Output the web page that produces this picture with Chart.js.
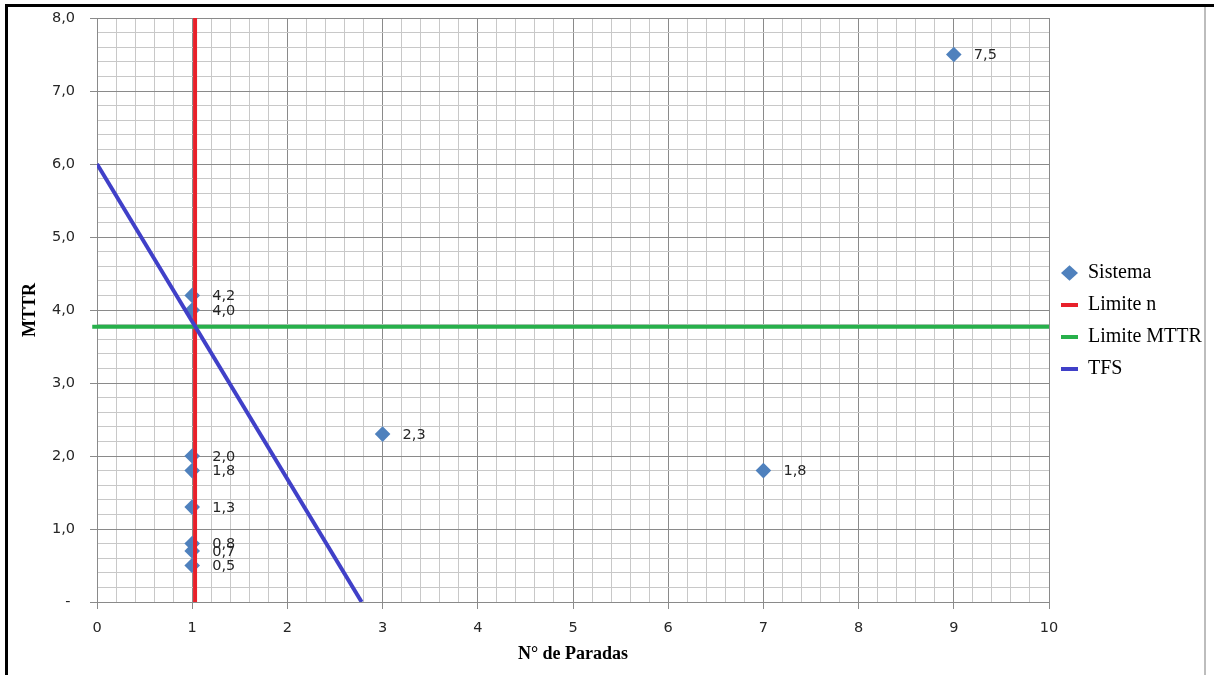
<!DOCTYPE html>
<html>
<head>
<meta charset="utf-8">
<script src="https://cdn.jsdelivr.net/npm/chart.js@4.4.1/dist/chart.umd.min.js"></script>
<style>
  html, body { margin: 0; padding: 0; background: #fff; }
  canvas { display: block; }
</style>
</head>
<body>
<canvas id="c" width="1214" height="675"></canvas>
<script>
// Sistema: número de paradas (x) y MTTR (y) de cada equipo
const paradas = [1, 1, 1, 1, 1, 1, 1, 1, 3, 7, 9];
const mttr    = [4.2, 4.0, 2.0, 1.8, 1.3, 0.8, 0.7, 0.5, 2.3, 1.8, 7.5];

// Límite n (recta vertical)
const limiteNX = [1.03, 1.03];
const limiteNY = [0, 8];

// Límite MTTR (recta horizontal)
const limiteMttrX = [-0.05, 10];
const limiteMttrY = [3.77, 3.77];

// TFS (recta decreciente)
const tfsX = [0, 2.78];
const tfsY = [6, 0];

// Etiquetas de los ejes (divisiones principales)
const xTickLabels = ['0', '1', '2', '3', '4', '5', '6', '7', '8', '9', '10'];
const yTickLabels = ['- ', '1,0', '2,0', '3,0', '4,0', '5,0', '6,0', '7,0', '8,0'];

const fmt = v => v.toFixed(1).replace('.', ',');
const toPoints = (xs, ys) => xs.map((x, i) => ({ x, y: ys[i] }));
const isMajor = v => Math.abs(v - Math.round(v)) < 1e-6;

const MAJOR = '#8a8a8a';
const MINOR = '#c8c8c8';
const TEXT = '#262626';
const tickFont = { family: 'DejaVu Sans', size: 14.5 };

// Fondo blanco y marco de la figura
const frame = {
  id: 'frame',
  beforeDraw(chart) {
    const c = chart.ctx;
    c.save();
    c.fillStyle = '#fff';
    c.fillRect(0, 0, chart.width, chart.height);
    c.restore();
  },
  afterDraw(chart) {
    const c = chart.ctx;
    c.save();
    c.fillStyle = '#bdbdbd';
    c.fillRect(1204, 6, 2, chart.height - 6);
    c.fillStyle = '#000';
    c.fillRect(5, 4, 1209, 3);
    c.fillRect(5, 4, 3, chart.height - 4);
    c.restore();
  }
};

// Ancho fijo de la leyenda a la derecha
const legendWidth = {
  id: 'legendWidth',
  beforeLayout(chart) {
    const lg = chart.legend;
    if (lg && !lg.__fixed) {
      const fit = lg.fit.bind(lg);
      lg.fit = function () { fit(); this.width = 165; };
      lg.__fixed = true;
    }
  }
};

// Valor de MTTR junto a cada punto del sistema
const valueLabels = {
  id: 'valueLabels',
  afterDatasetsDraw(chart) {
    const meta = chart.getDatasetMeta(0);
    const c = chart.ctx;
    c.save();
    c.font = '14.5px "DejaVu Sans"';
    c.fillStyle = TEXT;
    c.textAlign = 'left';
    c.textBaseline = 'middle';
    meta.data.forEach((pt, i) => c.fillText(fmt(mttr[i]), pt.x + 20, pt.y + 1));
    c.restore();
  }
};

new Chart(document.getElementById('c'), {
  type: 'scatter',
  data: {
    datasets: [
      {
        label: 'Sistema',
        data: toPoints(paradas, mttr),
        pointStyle: 'rectRot',
        pointRadius: 7.8,
        pointHoverRadius: 7.8,
        backgroundColor: '#4f81bd',
        borderColor: '#4f81bd',
        borderWidth: 0,
        order: 4
      },
      {
        label: 'Limite n',
        data: toPoints(limiteNX, limiteNY),
        showLine: true,
        borderColor: '#e8202a',
        backgroundColor: '#e8202a',
        borderWidth: 4,
        pointRadius: 0,
        order: 3
      },
      {
        label: 'Limite MTTR',
        data: toPoints(limiteMttrX, limiteMttrY),
        showLine: true,
        borderColor: '#27b04b',
        backgroundColor: '#27b04b',
        borderWidth: 4,
        pointRadius: 0,
        clip: false,
        order: 2
      },
      {
        label: 'TFS',
        data: toPoints(tfsX, tfsY),
        showLine: true,
        borderColor: '#4040c8',
        backgroundColor: '#4040c8',
        borderWidth: 4,
        pointRadius: 0,
        order: 1
      }
    ]
  },
  options: {
    responsive: false,
    animation: false,
    devicePixelRatio: 1,
    events: [],
    layout: { padding: { left: 0, right: 0, top: 18, bottom: 0 } },
    plugins: {
      tooltip: { enabled: false },
      legend: {
        position: 'right',
        align: 'start',
        title: { display: true, text: '', font: { size: 10 }, padding: { top: 221, bottom: 0 } },
        labels: {
          usePointStyle: true,
          pointStyleWidth: 17,
          boxHeight: 11,
          padding: 12,
          color: '#000',
          font: { family: 'Liberation Serif', size: 20 },
          generateLabels: chart => chart.data.datasets.map((ds, i) => ({
            text: ds.label,
            datasetIndex: i,
            hidden: false,
            pointStyle: i === 0 ? 'rectRot' : 'line',
            fillStyle: i === 0 ? ds.backgroundColor : ds.borderColor,
            strokeStyle: ds.borderColor,
            lineWidth: i === 0 ? 0 : 4,
            fontColor: '#000'
          }))
        }
      }
    },
    scales: {
      x: {
        type: 'linear',
        position: 'bottom',
        min: 0,
        max: 10,
        ticks: {
          stepSize: 0.2,
          autoSkip: false,
          maxRotation: 0,
          minRotation: 0,
          padding: 11,
          color: TEXT,
          font: tickFont,
          callback: v => isMajor(v) ? xTickLabels[Math.round(v)] : ''
        },
        grid: {
          lineWidth: 1,
          tickLength: 7,
          color: ctx => isMajor(ctx.tick.value) ? MAJOR : MINOR,
          tickColor: ctx => isMajor(ctx.tick.value) ? MAJOR : 'rgba(0,0,0,0)'
        },
        border: { color: MAJOR, width: 1 },
        title: {
          display: true,
          text: 'N° de Paradas',
          color: '#000',
          font: { family: 'Liberation Serif', size: 18, weight: 'bold' },
          padding: { top: 0, bottom: 10 }
        },
        afterFit: s => { s.height = 73; }
      },
      y: {
        type: 'linear',
        min: 0,
        max: 8,
        ticks: {
          stepSize: 0.2,
          autoSkip: false,
          padding: 15,
          color: TEXT,
          font: tickFont,
          callback: v => isMajor(v) ? yTickLabels[Math.round(v)] : ''
        },
        grid: {
          lineWidth: 1,
          tickLength: 7,
          color: ctx => isMajor(ctx.tick.value) ? MAJOR : MINOR,
          tickColor: ctx => isMajor(ctx.tick.value) ? MAJOR : 'rgba(0,0,0,0)'
        },
        border: { color: MAJOR, width: 1 },
        title: {
          display: true,
          text: 'MTTR',
          color: '#000',
          font: { family: 'Liberation Serif', size: 18, weight: 'bold' },
          padding: { top: 20, bottom: 0 }
        },
        afterFit: s => { s.width = 97; s.paddingTop = 0; s.paddingBottom = 0; }
      }
    }
  },
  plugins: [frame, legendWidth, valueLabels]
});
</script>
</body>
</html>
